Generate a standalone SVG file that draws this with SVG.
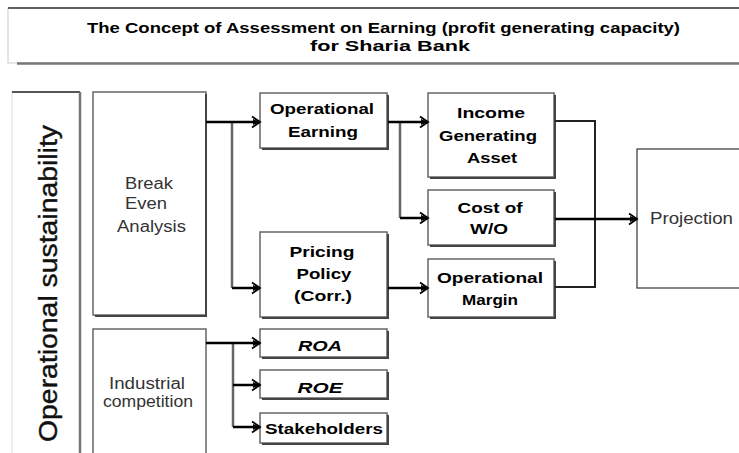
<svg xmlns="http://www.w3.org/2000/svg" width="739" height="453" viewBox="0 0 739 453">
<defs>
<marker id="arr" markerUnits="userSpaceOnUse" markerWidth="14" markerHeight="14" refX="10" refY="7" orient="auto" viewBox="0 0 14 14">
<path d="M2,1.5 L10,7 L2,12.5" fill="none" stroke="#000" stroke-width="1.8"/>
<path d="M3,4 L10,7 L3,10 Z" fill="#000"/>
</marker>
</defs>
<style>
.box{fill:#fff;stroke:#666;stroke-width:1.5}
.sh{fill:none;stroke:#444;stroke-width:2}
.lbl{font-family:"Liberation Sans",Arial,sans-serif;font-weight:bold;font-size:15px;fill:#000;text-anchor:middle}
.reg{font-family:"Liberation Sans",Arial,sans-serif;font-size:16px;fill:#333}
.ln{fill:none;stroke:#000;stroke-width:2.5}
.vl{fill:none;stroke:#666;stroke-width:2.5}
.thin{fill:none;stroke:#222;stroke-width:2}
</style>
<rect width="739" height="453" fill="#fff"/>

<g id="title">
<rect x="8" y="8" width="740" height="55" fill="#fff" stroke="#ccc" stroke-width="1"/>
<line x1="8" y1="8" x2="739" y2="8" stroke="#333" stroke-width="1.5"/>
<line x1="17" y1="63.5" x2="739" y2="63.5" stroke="#777" stroke-width="2.5"/>
<text class="lbl" x="383.5" y="33" textLength="593" lengthAdjust="spacingAndGlyphs">The Concept of Assessment on Earning (profit generating capacity)</text>
<text class="lbl" x="390" y="51" textLength="160" lengthAdjust="spacingAndGlyphs">for Sharia Bank</text>
</g>

<g id="operational-sustainability">
<rect x="12" y="92" width="68" height="370" fill="#fff" stroke="#ddd" stroke-width="1"/>
<line x1="12" y1="92" x2="80" y2="92" stroke="#555" stroke-width="2"/>
<line x1="80" y1="92" x2="80" y2="453" stroke="#777" stroke-width="2.5"/>
<text transform="translate(57,283.5) rotate(-90)" x="0" y="0" text-anchor="middle" font-family="Liberation Sans, Arial, sans-serif" font-size="25" fill="#111" stroke="#111" stroke-width="0.4" textLength="317" lengthAdjust="spacingAndGlyphs">Operational sustainability</text>
</g>

<g id="break-even">
<rect class="box" x="93" y="92" width="113" height="223"/>
<path class="sh" d="M206,94 V316 H95"/>
<text class="reg" x="125" y="189" textLength="48" lengthAdjust="spacingAndGlyphs">Break</text>
<text class="reg" x="125" y="209" textLength="42" lengthAdjust="spacingAndGlyphs">Even</text>
<text class="reg" x="117" y="232" textLength="69" lengthAdjust="spacingAndGlyphs">Analysis</text>
</g>

<g id="industrial">
<rect class="box" x="93" y="329" width="113" height="140"/>
<text class="reg" x="109" y="389" textLength="76" lengthAdjust="spacingAndGlyphs">Industrial</text>
<text class="reg" x="103" y="407" textLength="90" lengthAdjust="spacingAndGlyphs">competition</text>
</g>

<g id="op-earning">
<rect class="box" x="260" y="93" width="127" height="55"/>
<path class="sh" d="M388,95 V149 H262"/>
<text class="lbl" x="322" y="114" textLength="104" lengthAdjust="spacingAndGlyphs">Operational</text>
<text class="lbl" x="323" y="137" textLength="70" lengthAdjust="spacingAndGlyphs">Earning</text>
</g>

<g id="pricing">
<rect class="box" x="260" y="232" width="127" height="85"/>
<path class="sh" d="M388,234 V318 H262"/>
<text class="lbl" x="322" y="257" textLength="65" lengthAdjust="spacingAndGlyphs">Pricing</text>
<text class="lbl" x="324" y="279" textLength="55" lengthAdjust="spacingAndGlyphs">Policy</text>
<text class="lbl" x="323" y="301" textLength="58" lengthAdjust="spacingAndGlyphs">(Corr.)</text>
</g>

<g id="income">
<rect class="box" x="428" y="93" width="126" height="84"/>
<path class="sh" d="M555,95 V178 H430"/>
<text class="lbl" x="491" y="118" textLength="68" lengthAdjust="spacingAndGlyphs">Income</text>
<text class="lbl" x="488" y="141" textLength="98" lengthAdjust="spacingAndGlyphs">Generating</text>
<text class="lbl" x="492" y="163" textLength="50" lengthAdjust="spacingAndGlyphs">Asset</text>
</g>

<g id="cost">
<rect class="box" x="428" y="190" width="126" height="55"/>
<path class="sh" d="M555,192 V246 H430"/>
<text class="lbl" x="490" y="213" textLength="65" lengthAdjust="spacingAndGlyphs">Cost of</text>
<text class="lbl" x="489" y="234" textLength="38" lengthAdjust="spacingAndGlyphs">W/O</text>
</g>

<g id="margin">
<rect class="box" x="428" y="259" width="126" height="58"/>
<path class="sh" d="M555,261 V318 H430"/>
<text class="lbl" x="490" y="283" textLength="106" lengthAdjust="spacingAndGlyphs">Operational</text>
<text class="lbl" x="490" y="305" textLength="56" lengthAdjust="spacingAndGlyphs">Margin</text>
</g>

<g id="projection">
<rect x="637" y="149" width="110" height="139" fill="#fff" stroke="#333" stroke-width="1.2"/>
<text class="reg" x="650" y="224" fill="#444" textLength="83" lengthAdjust="spacingAndGlyphs">Projection</text>
</g>

<g id="roa">
<rect class="box" x="260" y="329" width="127" height="28"/>
<path class="sh" d="M388,331 V358 H262"/>
<text class="lbl" x="320" y="351" font-style="italic" textLength="44" lengthAdjust="spacingAndGlyphs">ROA</text>
</g>
<g id="roe">
<rect class="box" x="260" y="370" width="127" height="28"/>
<path class="sh" d="M388,372 V399 H262"/>
<text class="lbl" x="320" y="393" font-style="italic" textLength="45" lengthAdjust="spacingAndGlyphs">ROE</text>
</g>
<g id="stakeholders">
<rect class="box" x="260" y="413" width="127" height="30"/>
<path class="sh" d="M388,415 V444 H262"/>
<text class="lbl" x="324" y="434" textLength="118" lengthAdjust="spacingAndGlyphs">Stakeholders</text>
</g>

<g id="connectors">
<path class="vl" d="M232,122 V288"/>
<path class="ln" d="M206,122 H260" marker-end="url(#arr)"/>
<path class="ln" d="M232,288 H260" marker-end="url(#arr)"/>
<path class="vl" d="M400,122 V218" stroke-width="2"/>
<path class="ln" d="M388,122 H428" marker-end="url(#arr)"/>
<path class="ln" d="M400,218 H428" marker-end="url(#arr)"/>
<path class="ln" d="M388,288 H428" marker-end="url(#arr)"/>
<path class="thin" d="M555,121 H595 V287 H555"/>
<path class="ln" d="M555,219 H637" marker-end="url(#arr)"/>
<path class="vl" d="M233,343 V427"/>
<path class="ln" d="M206,343 H260" stroke-width="2" marker-end="url(#arr)"/>
<path class="ln" d="M233,385 H260" marker-end="url(#arr)"/>
<path class="ln" d="M233,427 H260" marker-end="url(#arr)"/>
</g>
</svg>
